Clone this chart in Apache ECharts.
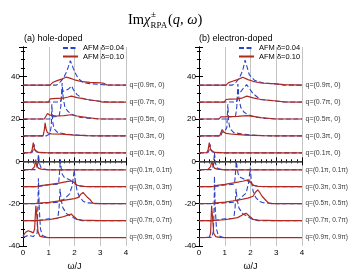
<!DOCTYPE html>
<html><head><meta charset="utf-8">
<script src="https://cdn.jsdelivr.net/npm/echarts@6/dist/echarts.min.js"></script>
<style>html,body{margin:0;padding:0;background:#fff}#c{width:356px;height:278px}</style>
</head><body><div id="c"></div>
<script>
// ---- data ----
const qLabels = ['q=(0.9π, 0)','q=(0.7π, 0)','q=(0.5π, 0)','q=(0.3π, 0)','q=(0.1π, 0)',
                 'q=(0.1π, 0.1π)','q=(0.3π, 0.3π)','q=(0.5π, 0.5π)','q=(0.7π, 0.7π)','q=(0.9π, 0.9π)'];
const baselines = [36, 28, 20, 12, 4, -4, -12, -20, -28, -36];
const seriesNames = ['AFM δ=0.04', 'AFM δ=0.10'];
const panelTitles = ['(a) hole-doped', '(b) electron-doped'];

// hole-doped, δ=0.04
const hole04_q09_0 = [[0,36],[1.3,36],[1.45,37.5],[1.57,39.3],[1.7,42.5],[1.84,47.5],[1.95,44],[2.08,40.5],[2.2,38.5],[2.35,37.2],[2.6,36.7],[3.0,36.3],[3.3,36],[4,36]];
const hole04_q07_0 = [[0,28],[1.45,28],[1.5,30],[1.53,33],[1.6,32.5],[1.75,34],[1.89,35.6],[1.95,34],[2.1,31.5],[2.3,29.8],[2.5,29],[3,28.4],[3.3,28],[4,28]];
const hole04_q05_0 = [[0,20],[1.05,20],[1.1,21],[1.4,21.2],[1.47,26],[1.52,37],[1.56,30],[1.63,25.5],[1.75,23.5],[1.9,22.2],[2.2,20.8],[2.6,20.3],[3,20],[4,20]];
const hole04_q03_0 = [[0,12],[0.9,12],[0.95,12.6],[1.05,13],[1.1,17],[1.12,27],[1.15,19],[1.2,15.5],[1.35,13.6],[1.7,12.8],[2.2,12.3],[2.8,12],[4,12]];
const hole04_q01_0 = [[0,4],[0.35,4.1],[0.4,5.5],[0.43,8],[0.46,5.5],[0.52,4.4],[0.7,4.1],[1,4],[4,4]];
const hole04_q01_01 = [[0,-4],[0.5,-3.9],[0.56,-2],[0.6,3.3],[0.64,-1],[0.7,-3],[0.8,-3.7],[1,-4],[4,-4]];
const hole04_q03_03 = [[0,-12],[0.55,-12],[0.6,-11.2],[1.0,-11.1],[1.38,-10.8],[1.42,-5],[1.45,1],[1.48,-3],[1.52,-6],[1.6,-7.5],[1.8,-8.7],[2.0,-10],[2.05,-11],[2.2,-11.6],[2.5,-12],[4,-12]];
const hole04_q05_05 = [[0,-20],[0.55,-20],[0.6,-19.4],[1.4,-19.3],[1.6,-17.8],[1.8,-15.5],[1.9,-12],[1.95,-8],[1.99,-4],[2.03,-9],[2.1,-14],[2.2,-17],[2.35,-19],[2.5,-19.6],[3,-20],[4,-20]];
const hole04_q07_07 = [[0,-28],[0.55,-28],[0.6,-27.3],[1.0,-27.2],[1.35,-27],[1.4,-22],[1.44,-13],[1.48,-18],[1.55,-22],[1.7,-24.8],[1.95,-26.5],[2.1,-27.5],[2.3,-28],[4,-28]];
const hole04_q09_09 = [[0,-36],[0.2,-35],[0.4,-35.5],[0.55,-34],[0.58,-20],[0.6,-8],[0.63,-22],[0.68,-32],[0.75,-35],[0.9,-35.8],[1,-36],[4,-36]];

// hole-doped, δ=0.10
const hole10_q09_0 = [[0,36],[1.05,36],[1.15,37.2],[1.3,38],[1.5,38.8],[1.68,39.8],[1.85,39.2],[2.0,38.5],[2.3,37.6],[2.6,37.3],[3.0,37.1],[3.15,36.8],[3.25,36.1],[4,36]];
const hole10_q07_0 = [[0,28],[1.0,28],[1.05,29.5],[1.1,30],[1.3,29.7],[1.55,29.8],[1.75,30.4],[1.88,30.8],[2.1,30.1],[2.5,29.2],[2.9,28.5],[3.1,28],[4,28]];
const hole10_q05_0 = [[0,20],[0.83,20],[0.9,21.5],[0.95,22.6],[1.05,21.8],[1.3,21.4],[1.6,21.6],[1.85,22],[2.1,21.4],[2.5,20.6],[2.9,20.1],[3.2,20],[4,20]];
const hole10_q03_0 = [[0,12],[0.78,12],[0.83,15],[0.86,18.2],[0.9,15],[0.95,13.5],[1.1,13],[1.5,12.8],[2.0,12.4],[2.5,12.1],[3,12],[4,12]];
const hole10_q01_0 = [[0,4],[0.3,4.1],[0.35,5.2],[0.4,8.8],[0.45,5.5],[0.5,4.6],[0.6,4.2],[1,4],[4,4]];
const hole10_q01_01 = [[0,-4],[0.35,-3.8],[0.45,-2.5],[0.49,0.8],[0.53,-2],[0.6,-3.2],[0.7,-3.7],[1,-4],[4,-4]];
const hole10_q03_03 = [[0,-12],[0.5,-12],[0.7,-11.5],[1.0,-11],[1.4,-10.3],[1.7,-9.6],[1.88,-9.3],[2.0,-10],[2.1,-11.3],[2.3,-11.8],[2.8,-12],[4,-12]];
const hole10_q05_05 = [[0,-20],[0.5,-19.9],[1.0,-19.4],[1.5,-18.6],[2.0,-17.6],[2.15,-17],[2.25,-15.5],[2.33,-14.7],[2.4,-15.5],[2.5,-17],[2.6,-18],[2.7,-19.6],[2.8,-20],[4,-20]];
const hole10_q07_07 = [[0,-28],[0.5,-28],[1.0,-27.6],[1.5,-26.4],[1.75,-25.4],[1.87,-24.9],[1.95,-25.8],[2.1,-27.4],[2.3,-27.8],[3,-28],[4,-28]];
const hole10_q09_09 = [[0,-35.3],[0.1,-33.5],[0.2,-32.8],[0.3,-33.2],[0.4,-33.8],[0.45,-32],[0.5,-21],[0.54,-26],[0.58,-33],[0.65,-35.3],[0.8,-35.8],[1,-36],[4,-36]];

// electron-doped, δ=0.04
const elec04_q09_0 = [[0,36],[1.3,36],[1.45,37.5],[1.57,39.4],[1.7,43],[1.79,47.8],[1.88,44],[1.95,41],[2.15,38.3],[2.5,37],[3.0,36.5],[3.3,36],[4,36]];
const elec04_q07_0 = [[0,28],[1.45,28],[1.5,30],[1.53,33.5],[1.6,32.5],[1.72,34.5],[1.85,36.2],[1.95,34.5],[2.08,32.3],[2.37,29.2],[3,28.5],[3.3,28],[4,28]];
const elec04_q05_0 = [[0,20],[1.1,20],[1.15,21],[1.42,21.3],[1.47,26],[1.51,36.5],[1.55,30],[1.62,25.5],[1.75,23.2],[1.9,22],[2.2,20.8],[2.6,20.3],[3,20],[4,20]];
const elec04_q03_0 = [[0,12],[0.85,12],[0.9,13.8],[1.0,14],[1.08,16],[1.12,27],[1.15,19],[1.2,15.5],[1.35,13.6],[1.7,12.8],[2.2,12.3],[2.8,12],[4,12]];
const elec04_q01_0 = [[0,4],[0.35,4.1],[0.4,5.5],[0.43,8],[0.46,5.5],[0.52,4.4],[0.7,4.1],[1,4],[4,4]];
const elec04_q01_01 = [[0,-4],[0.5,-3.9],[0.56,-2],[0.6,4],[0.64,-1],[0.7,-3],[0.8,-3.7],[1,-4],[4,-4]];
const elec04_q03_03 = [[0,-12],[0.55,-12],[0.6,-11.3],[1.0,-11.2],[1.38,-10.8],[1.42,-5],[1.45,0],[1.48,-3],[1.52,-6],[1.6,-7.5],[1.8,-8.7],[2.0,-10],[2.05,-11],[2.2,-11.6],[2.5,-12],[4,-12]];
const elec04_q05_05 = [[0,-20],[0.55,-20],[0.6,-19.6],[1.4,-19.3],[1.6,-17.5],[1.83,-15],[1.93,-10],[1.99,-3],[2.03,-9],[2.1,-14],[2.2,-17],[2.35,-19],[2.5,-19.6],[3,-20],[4,-20]];
const elec04_q07_07 = [[0,-28],[0.55,-28],[0.6,-27.3],[1.0,-27.2],[1.35,-27],[1.4,-22],[1.44,-13],[1.48,-18],[1.55,-22],[1.7,-24.8],[1.95,-26.5],[2.1,-27.5],[2.3,-28],[4,-28]];
const elec04_q09_09 = [[0,-36],[0.5,-35.9],[0.56,-33],[0.59,-20],[0.6,-7],[0.63,-22],[0.68,-32],[0.75,-35],[0.9,-35.8],[1,-36],[4,-36]];

// electron-doped, δ=0.10
const elec10_q09_0 = [[0,36],[1.05,36],[1.15,37.2],[1.3,37.8],[1.5,38.6],[1.7,39.7],[1.9,38.6],[2.1,37.8],[2.4,37],[3.0,36.6],[3.3,36.2],[4,36]];
const elec10_q07_0 = [[0,28],[0.98,28],[1.05,29.2],[1.2,29.4],[1.5,29.5],[1.7,30],[1.86,30.8],[2.1,30],[2.4,29.2],[3.0,28.5],[3.3,28.1],[4,28]];
const elec10_q05_0 = [[0,20],[0.78,20],[0.85,21],[1.0,21],[1.5,21.2],[1.85,21.6],[2.1,21.2],[2.4,20.6],[2.9,20.1],[3.2,20],[4,20]];
const elec10_q03_0 = [[0,12],[0.8,12],[0.85,13.5],[0.9,15],[0.95,14],[1.05,13.2],[1.3,12.8],[1.8,12.4],[2.5,12.1],[3,12],[4,12]];
const elec10_q01_0 = [[0,4],[0.3,4.1],[0.35,5.2],[0.4,8.8],[0.45,5.5],[0.5,4.6],[0.6,4.2],[1,4],[4,4]];
const elec10_q01_01 = [[0,-4],[0.35,-3.8],[0.45,-2.5],[0.5,0.2],[0.54,-2],[0.6,-3.2],[0.7,-3.7],[1,-4],[4,-4]];
const elec10_q03_03 = [[0,-12],[0.5,-12],[0.7,-11.4],[1.0,-10.9],[1.4,-10.1],[1.7,-9.4],[1.89,-8.8],[2.0,-9.8],[2.1,-11.3],[2.3,-11.8],[2.8,-12],[4,-12]];
const elec10_q05_05 = [[0,-20],[0.5,-19.9],[1.0,-19.3],[1.5,-18.4],[1.9,-17.4],[2.1,-16.5],[2.2,-14.5],[2.28,-13.5],[2.35,-14.5],[2.45,-16.5],[2.6,-18.5],[2.7,-19.7],[2.8,-20],[4,-20]];
const elec10_q07_07 = [[0,-28],[0.5,-28],[1.0,-27.6],[1.5,-26.6],[1.7,-25.2],[1.83,-24.5],[1.95,-25.8],[2.1,-27.4],[2.3,-27.8],[3,-28],[4,-28]];
const elec10_q09_09 = [[0,-36],[0.4,-35.9],[0.45,-34],[0.49,-21],[0.53,-27],[0.57,-34],[0.65,-35.6],[0.8,-35.9],[1,-36],[4,-36]];

// ---- assembly ----
const panels = [
  {blue:[hole04_q09_0,hole04_q07_0,hole04_q05_0,hole04_q03_0,hole04_q01_0,hole04_q01_01,hole04_q03_03,hole04_q05_05,hole04_q07_07,hole04_q09_09],
   red:[hole10_q09_0,hole10_q07_0,hole10_q05_0,hole10_q03_0,hole10_q01_0,hole10_q01_01,hole10_q03_03,hole10_q05_05,hole10_q07_07,hole10_q09_09]},
  {blue:[elec04_q09_0,elec04_q07_0,elec04_q05_0,elec04_q03_0,elec04_q01_0,elec04_q01_01,elec04_q03_03,elec04_q05_05,elec04_q07_07,elec04_q09_09],
   red:[elec10_q09_0,elec10_q07_0,elec10_q05_0,elec10_q03_0,elec10_q01_0,elec10_q01_01,elec10_q03_03,elec10_q05_05,elec10_q07_07,elec10_q09_09]}
];

const BLUE = '#2a44c8', RED = '#b0281f';
const FONT = '"Liberation Sans", Arial, sans-serif';
const gridLeft = [23, 199];

const grids = gridLeft.map(l => ({left: l, top: 47, width: 103, height: 199}));
const xAxes = [], yAxes = [], series = [];
gridLeft.forEach((l, g) => {
  xAxes.push({gridIndex: g, type: 'value', min: 0, max: 4, interval: 1, position: 'bottom',
    axisLine: {lineStyle: {color: '#000', width: 1}},
    axisTick: {inside: true, length: 4, lineStyle: {color: '#000'}},
    minorTick: {show: true, splitNumber: 5, length: 2, lineStyle: {color: '#000'}},
    axisLabel: {fontSize: 8, color: '#000', margin: 3, fontFamily: FONT},
    splitLine: {show: true, lineStyle: {color: '#c4c4c4', width: 1}},
    name: 'ω/J', nameLocation: 'middle', nameGap: 13, nameTextStyle: {fontSize: 9, color: '#000', fontFamily: FONT}});
  xAxes.push({gridIndex: g, type: 'value', min: 0, max: 4, interval: 1, position: 'top',
    axisLine: {lineStyle: {color: '#000', width: 1}},
    axisTick: {inside: true, length: 4, lineStyle: {color: '#000'}},
    minorTick: {show: true, splitNumber: 5, length: 2, lineStyle: {color: '#000'}},
    axisLabel: {show: false}, splitLine: {show: false}});
  yAxes.push({gridIndex: g, type: 'value', min: -40, max: 54, interval: 20, position: 'left',
    axisLine: {show: true, lineStyle: {color: '#000', width: 1}},
    axisTick: {show: true, inside: true, length: 4, lineStyle: {color: '#000'}},
    minorTick: {show: true, splitNumber: 5, length: 2, lineStyle: {color: '#000'}},
    axisLabel: {fontSize: 8, color: '#000', margin: 3, fontFamily: FONT, showMaxLabel: false},
    splitLine: {show: false}});
  yAxes.push({gridIndex: g, type: 'value', min: -40, max: 54, interval: 20, position: 'right',
    axisLine: {show: true, lineStyle: {color: '#000', width: 1}},
    axisTick: {show: true, inside: true, length: 4, lineStyle: {color: '#000'}},
    minorTick: {show: true, splitNumber: 5, length: 2, lineStyle: {color: '#000'}},
    axisLabel: {show: false}, splitLine: {show: false}});

  const p = panels[g];
  for (let i = 0; i < baselines.length; i++) {
    const b = {type: 'line', name: seriesNames[0], xAxisIndex: 2*g, yAxisIndex: 2*g, data: p.blue[i],
      symbol: 'none', showSymbol: false, animation: false, silent: true, z: 3,
      lineStyle: {color: BLUE, width: 1.1, type: [5, 2.5]}, itemStyle: {color: BLUE}};
    if (i === 0) {
      b.markLine = {silent: true, symbol: ['none','none'], animation: false, label: {show: false},
        lineStyle: {color: '#555', width: 1.6, type: 'solid'}, data: [{yAxis: 0}]};
    }
    series.push(b);
    series.push({type: 'line', name: seriesNames[1], xAxisIndex: 2*g, yAxisIndex: 2*g, data: p.red[i],
      symbol: 'none', showSymbol: false, animation: false, silent: true, z: 4,
      lineStyle: {color: RED, width: 1.2, type: 'solid'}, itemStyle: {color: RED}});
  }
  series.push({type: 'scatter', name: 'labels' + g, xAxisIndex: 2*g, yAxisIndex: 2*g, clip: false,
    symbolSize: 1, itemStyle: {color: 'rgba(0,0,0,0)'}, animation: false, silent: true, z: 6,
    data: baselines.map((v, i) => ({value: [4, v],
      label: {show: true, position: 'right', distance: 3, formatter: qLabels[i],
              fontSize: i < 5 ? 7 : 6.5, color: '#000', fontFamily: FONT}}))});
});

const legends = [62, 238].map(l => ({left: l, top: 44, orient: 'vertical', padding: 0,
  itemWidth: 15, itemHeight: 8, itemGap: 0.5, data: seriesNames, selectedMode: false,
  itemStyle: {opacity: 0},
  textStyle: {fontSize: 7.5, color: '#000', fontFamily: FONT}}));

const serif = '"Liberation Serif", "DejaVu Serif", serif';
const graphic = [
  {type: 'text', left: 128, top: 13, style: {text: 'Im{i|χ}', font: '14.5px ' + serif, fill: '#000',
    rich: {i: {fontStyle: 'italic', fontSize: 14.5, fontFamily: serif}}}},
  {type: 'text', left: 151, top: 10.5, style: {text: '±', font: '9px ' + serif, fill: '#000'}},
  {type: 'text', left: 150.5, top: 21.5, style: {text: 'RPA', font: '9px ' + serif, fill: '#000'}},
  {type: 'text', left: 168, top: 13, style: {text: '({i|q}, {i|ω})', font: '14.5px ' + serif, fill: '#000',
    rich: {i: {fontStyle: 'italic', fontSize: 14.5, fontFamily: serif}}}},
  {type: 'text', left: 24, top: 34, style: {text: panelTitles[0], font: '9px ' + FONT, fill: '#000'}},
  {type: 'text', left: 199, top: 34, style: {text: panelTitles[1], font: '9px ' + FONT, fill: '#000'}}
];

const chart = echarts.init(document.getElementById('c'), null, {renderer: 'canvas'});
chart.setOption({animation: false, backgroundColor: '#fff', grid: grids, xAxis: xAxes, yAxis: yAxes,
  legend: legends, series: series, graphic: graphic});
</script></body></html>
